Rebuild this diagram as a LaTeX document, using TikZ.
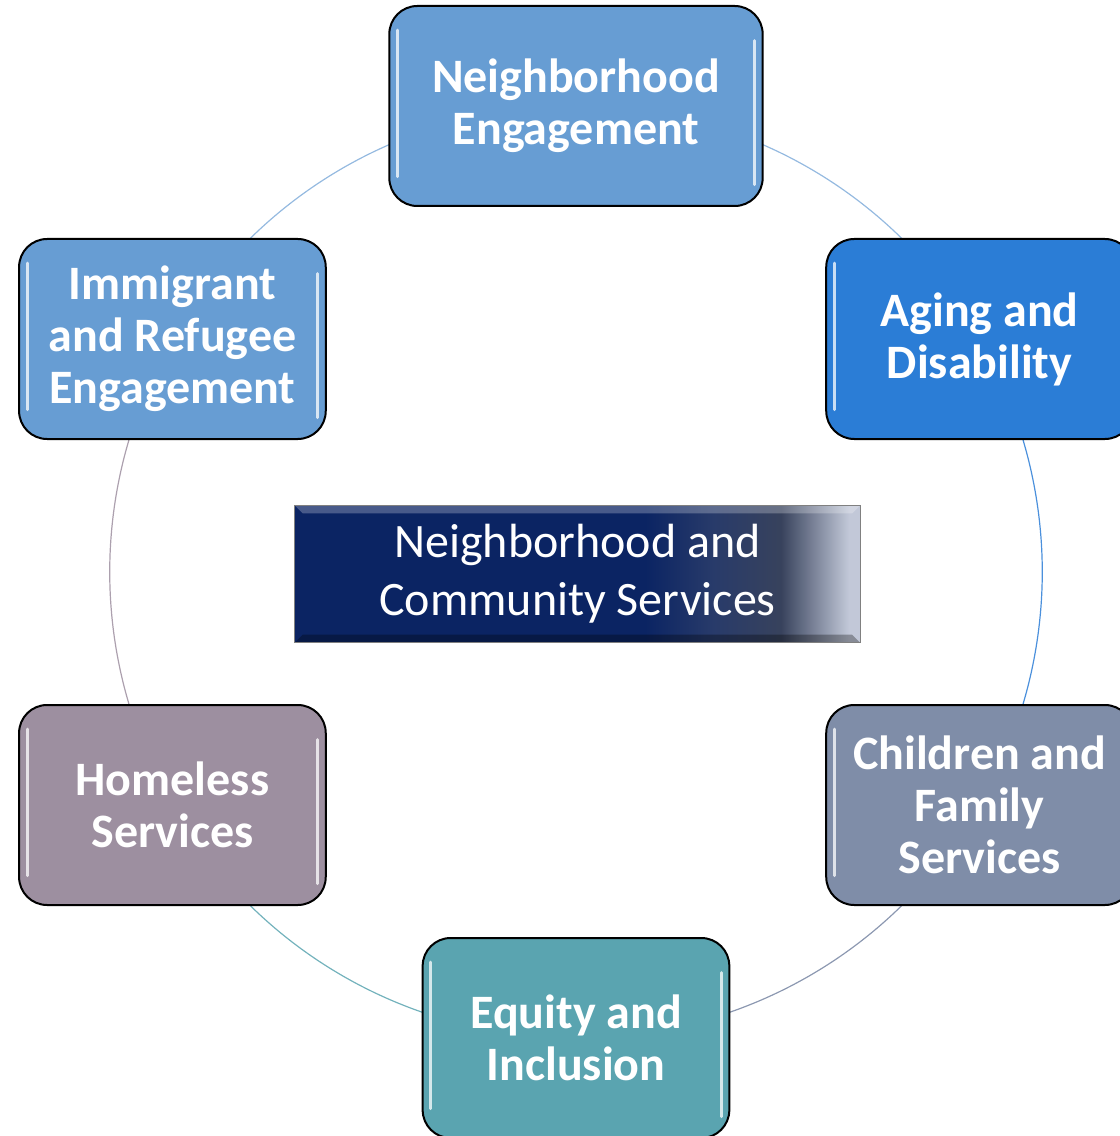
\documentclass[tikz,border=0pt]{standalone}
\usepackage{fontspec}
\setmainfont{Carlito}
\usetikzlibrary{backgrounds}

\definecolor{engblue}{HTML}{679DD3}
\definecolor{agingblue}{HTML}{2B7DD6}
\definecolor{familygray}{HTML}{7F8DA8}
\definecolor{equityteal}{HTML}{5AA4B0}
\definecolor{homelessmauve}{HTML}{9D8FA0}
\definecolor{hubnavy}{HTML}{0B2463}

\pgfdeclarehorizontalshading{hubfade}{100bp}{
  color(0bp)=(hubnavy); color(25bp)=(hubnavy); color(56bp)=(hubnavy);
  color(62bp)=(hubnavy!75!gray); color(68bp)=(hubnavy!70!black!60!gray);
  color(74bp)=(hubnavy!25!white); color(100bp)=(hubnavy!25!white)}

\tikzset{
  area/.style={draw=black, line width=1.5pt, rounded corners=21pt,
    minimum width=230pt, minimum height=150pt, inner sep=0pt,
    text=white, align=center, font=\bfseries\fontsize{36}{39}\selectfont,
    path picture={
      \draw[white, opacity=.75, line width=2.2pt, line cap=round]
        ([xshift=6pt,yshift=-18pt]path picture bounding box.north west)
        -- ([xshift=6pt,yshift=22pt]path picture bounding box.south west);
      \draw[white, opacity=.75, line width=2.2pt, line cap=round]
        ([xshift=-6pt,yshift=-26pt]path picture bounding box.north east)
        -- ([xshift=-6pt,yshift=16pt]path picture bounding box.south east);
    }},
  hub/.style={draw=gray, line width=.8pt, shading=hubfade,
    minimum width=424pt, minimum height=103pt, inner sep=0pt,
    text=white, align=center, font=\fontsize{36}{43.5}\selectfont,
    path picture={
      \fill[white, opacity=.25]
        (path picture bounding box.north west) -- (path picture bounding box.north east)
        -- ([xshift=-6pt,yshift=-6pt]path picture bounding box.north east)
        -- ([xshift=6pt,yshift=-6pt]path picture bounding box.north west) -- cycle;
      \fill[black, opacity=.3]
        (path picture bounding box.south west) -- (path picture bounding box.south east)
        -- ([xshift=-6pt,yshift=6pt]path picture bounding box.south east)
        -- ([xshift=6pt,yshift=6pt]path picture bounding box.south west) -- cycle;
    }},
  ring/.style={line width=.9pt, bend right=30, looseness=.92}
}

\begin{document}
\begin{tikzpicture}[x=0.75pt, y=0.75pt]
  \useasboundingbox (-576,-564) rectangle (544,572);

  \node[hub] (nhs) at (1.5,-2) {Neighborhood and\\Community Services};

  \node[area, fill=engblue, minimum width=280pt] (eng) at (90:466) {Neighborhood\\Engagement};
  \node[area, fill=agingblue] (aging) at (30:466) {Aging and\\Disability};
  \node[area, fill=familygray] (family) at (-30:466) {Children and\\Family\\Services};
  \node[area, fill=equityteal] (equity) at (-90:466) {Equity and\\Inclusion};
  \node[area, fill=homelessmauve] (homeless) at (-150:466) {Homeless\\Services};
  \node[area, fill=engblue] (immigrant) at (150:466) {Immigrant\\and Refugee\\Engagement};

  \begin{pgfonlayer}{background}
    \draw[ring, draw=engblue!70] (eng.center) to (immigrant.center);
    \draw[ring, draw=engblue!70] (aging.center) to (eng.center);
    \draw[ring, draw=agingblue!85] (family.center) to (aging.center);
    \draw[ring, draw=familygray!90] (equity.center) to (family.center);
    \draw[ring, draw=equityteal!85] (homeless.center) to (equity.center);
    \draw[ring, draw=homelessmauve!85] (immigrant.center) to (homeless.center);
  \end{pgfonlayer}
\end{tikzpicture}
\end{document}
